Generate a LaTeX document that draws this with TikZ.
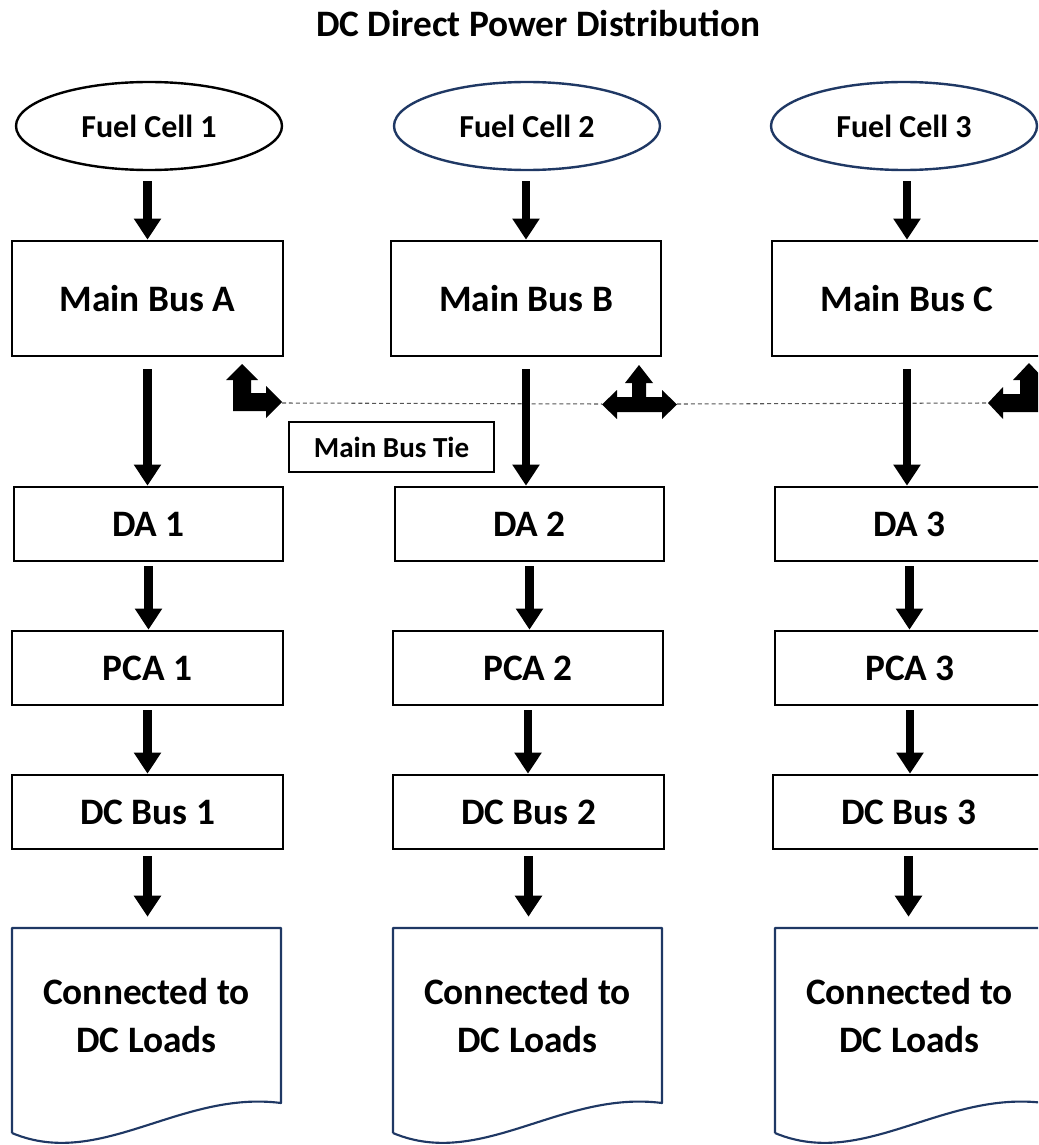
\documentclass[tikz,border=0pt]{standalone}
\usepackage{fontspec}
\setmainfont{Carlito}
\usetikzlibrary{arrows.meta,shapes.geometric,calc}
\definecolor{navy}{HTML}{1F3864}
\definecolor{tiegray}{HTML}{555555}
\begin{document}
\begin{tikzpicture}[x=0.75pt,y=-0.75pt,
  sz/.style 2 args={minimum width=#1*0.75pt,minimum height=#2*0.75pt},
  box/.style={draw=black,line width=2pt,inner sep=0pt,font=\fontsize{28}{32}\selectfont\bfseries},
  fcell/.style={ellipse,draw=#1,line width=1.8pt,inner sep=0pt,sz={266}{88},font=\fontsize{24}{28}\selectfont\bfseries},
  docnode/.style={inner sep=0pt,align=center,sz={269}{175},font=\fontsize{28}{36}\selectfont\bfseries},
  docline/.style={draw=navy,line width=1.6pt,line join=round},
  tiebox/.style={draw=black,line width=1.1pt,inner sep=0pt,sz={205}{50},font=\fontsize{21.8}{24}\selectfont\bfseries},
  arr/.style={line width=6.5pt,-{Triangle[length=15.75pt,width=19.5pt]}},
  tieline/.style={draw=tiegray,line width=0.8pt,dash pattern=on 3pt off 2.2pt},
  tiearrow/.style={fill=black,draw=none},
  titlefont/.style={font=\fontsize{28}{32}\selectfont\bfseries}
]
\useasboundingbox (0,0) rectangle (1038,1145);
\clip (0,0) rectangle (1038,1145);

% title
\node[titlefont] (title) at (538.5,24) {DC Direct Power Distribution};

% fuel cells
\node[fcell=black] (fc1) at (149,126) {Fuel Cell 1};
\node[fcell=navy]  (fc2) at (527,126) {Fuel Cell 2};
\node[fcell=navy]  (fc3) at (904,126) {Fuel Cell 3};

% main buses
\node[box, sz={271}{115}] (mb1) at (147.5,298.5) {Main Bus A};
\node[box, sz={270}{115}] (mb2) at (526,298.5) {Main Bus B};
\node[box, sz={270}{115}] (mb3) at (907,298.5) {Main Bus C};

% DA
\node[box, sz={269}{74}] (da1) at (148.5,524) {DA 1};
\node[box, sz={269}{74}] (da2) at (529.5,524) {DA 2};
\node[box, sz={269}{74}] (da3) at (909.5,524) {DA 3};

% PCA
\node[box, sz={271}{74}] (pca1) at (147.5,668) {PCA 1};
\node[box, sz={270}{74}] (pca2) at (528,668) {PCA 2};
\node[box, sz={270}{74}] (pca3) at (910,668) {PCA 3};

% DC Bus
\node[box, sz={271}{74}] (dcb1) at (147.5,812) {DC Bus 1};
\node[box, sz={271}{74}] (dcb2) at (528.5,812) {DC Bus 2};
\node[box, sz={271}{74}] (dcb3) at (908.5,812) {DC Bus 3};

% documents
\foreach \L in {12,393,775}{
  \draw[docline] (\L,1133) -- (\L,928) -- ({\L+269},928) -- ({\L+269},1103)
     .. controls ({\L+168},1090) and ({\L+88},1170) .. (\L,1133);
}
\node[docnode] (doc1) at (146.5,1015.5) {Connected to\\DC Loads};
\node[docnode] (doc2) at (527.5,1015.5) {Connected to\\DC Loads};
\node[docnode] (doc3) at (909.5,1015.5) {Connected to\\DC Loads};

% main bus tie
\node[tiebox] (tie) at (391.5,447) {Main Bus Tie};

% bus tie dashed lines
\coordinate (t1) at (282,403);
\coordinate (t2) at (602,404);
\coordinate (t3) at (677,404);
\coordinate (t4) at (988,403);
\draw[tieline] (t1) -- (t2);
\draw[tieline] (t3) -- (t4);

% vertical connectors
\foreach \i in {1,2,3}{
  \draw[arr] ($(mb\i.north |- fc\i.south)+(0,10)$) -- (mb\i.north);
  \draw[arr] ($(mb\i.south)+(0,12)$) -- (mb\i.south |- da\i.north);
  \draw[arr] ($(da\i.south)+(0,4)$) -- (da\i.south |- pca\i.north);
  \draw[arr] ($(pca\i.south)+(0,4)$) -- (pca\i.south |- dcb\i.north);
  \draw[arr] ($(dcb\i.south)+(0,6)$) -- ($(dcb\i.south |- doc\i.north)+(0,-11)$);
}

% bus tie arrow shapes
\fill[tiearrow] (242,364) -- (258,380) -- (251,380) -- (251,393) -- (266,393) -- (266,386)
  -- (282,402) -- (266,418) -- (266,411) -- (233,411) -- (233,380) -- (226,380) -- cycle;
\fill[tiearrow] (639,365) -- (653,383) -- (646,383) -- (646,397) -- (662,397) -- (662,390)
  -- (677,404.5) -- (662,419) -- (662,412) -- (617,412) -- (617,419) -- (602,404.5)
  -- (617,390) -- (617,397) -- (632,397) -- (632,383) -- (625,383) -- cycle;
\fill[tiearrow] (1029,363) -- (1045,380) -- (1038,380) -- (1038,412) -- (1003,412) -- (1003,419)
  -- (988,403) -- (1003,387) -- (1003,394) -- (1020,394) -- (1020,380) -- (1013,380) -- cycle;
\end{tikzpicture}
\end{document}
